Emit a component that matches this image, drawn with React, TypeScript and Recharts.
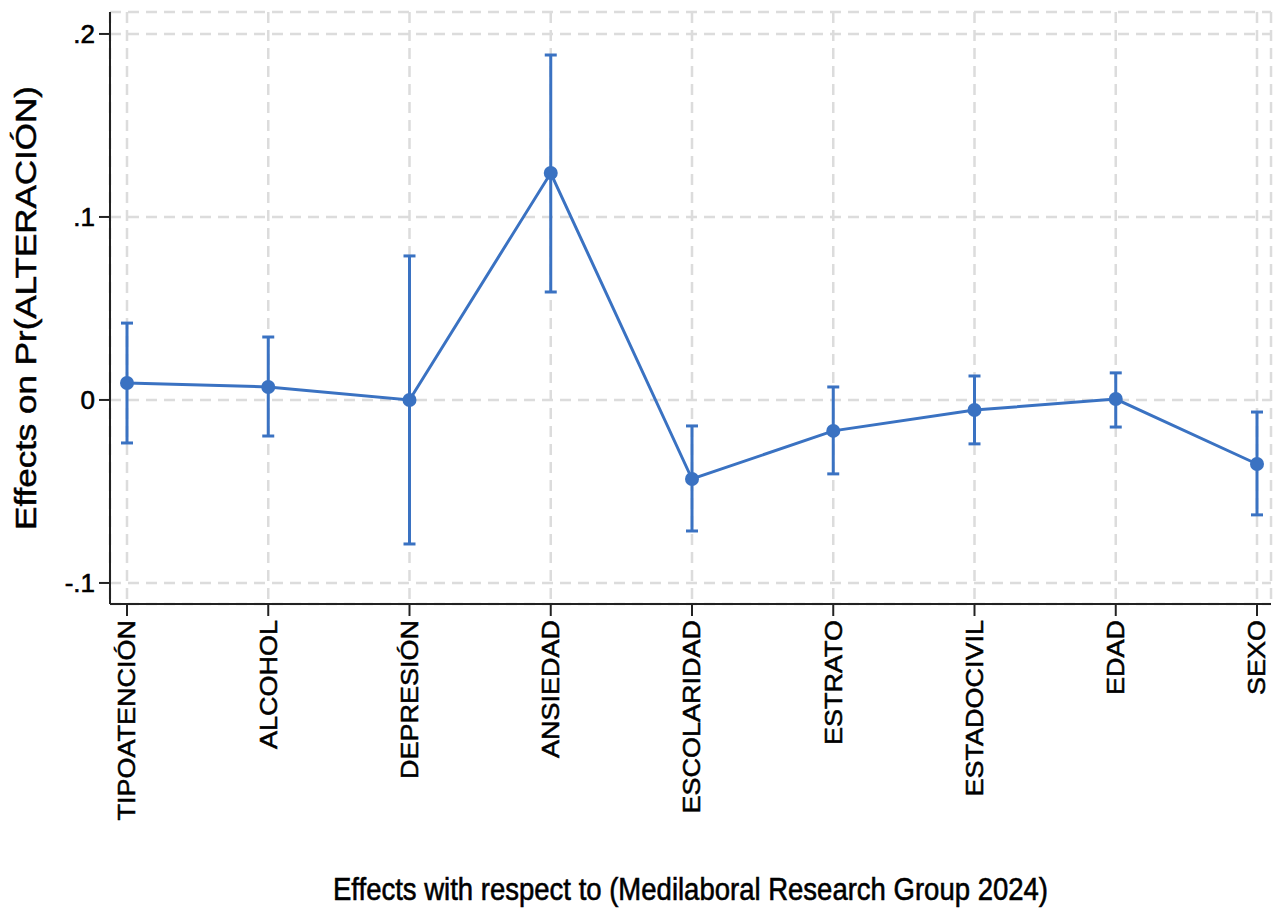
import React from "react";
import {
  LineChart,
  Line,
  XAxis,
  YAxis,
  CartesianGrid,
  ErrorBar,
  Label,
} from "recharts";

const categories = [
  "TIPOATENCIÓN",
  "ALCOHOL",
  "DEPRESIÓN",
  "ANSIEDAD",
  "ESCOLARIDAD",
  "ESTRATO",
  "ESTADOCIVIL",
  "EDAD",
  "SEXO",
];
const effects = [0.0093, 0.0071, 0.0, 0.124, -0.0432, -0.0169, -0.0055, 0.0005, -0.035];
const lowerCI = [-0.0235, -0.0197, -0.0787, 0.059, -0.0716, -0.0404, -0.024, -0.0148, -0.0628];
const upperCI = [0.042, 0.0344, 0.0787, 0.1885, -0.0142, 0.0071, 0.0131, 0.0148, -0.0066];
const yTicks = [-0.1, 0, 0.1, 0.2];
const yDomain = [-0.1115, 0.212];

const xTitle = "Effects with respect to (Medilaboral Research Group 2024)";
const yTitle = "Effects on Pr(ALTERACIÓN)";

const data = categories.map((name, i) => ({
  name,
  effect: effects[i],
  err: [effects[i] - lowerCI[i], upperCI[i] - effects[i]],
}));

const FONT = "'Liberation Sans', Arial, Helvetica, sans-serif";
const BLUE = "#3a72c2";
const SQ = 0.86;
const TXT = { fill: "#000", stroke: "#000", strokeWidth: 0.6 };

const fmt = (v: number) => {
  if (v === 0) return "0";
  const s = String(Math.round(v * 10) / 10);
  return s.replace("0.", ".");
};

const XTick = (props: any) => {
  const { x, y, payload } = props;
  return (
    <text
      transform={`translate(${x},${y + 2}) rotate(-90) scale(1,${SQ})`}
      textAnchor="end"
      dy="0.36em"
      fontSize={27}
      fontFamily={FONT}
      {...TXT}
    >
      {payload.value}
    </text>
  );
};

const YTick = (props: any) => {
  const { x, y, payload } = props;
  return (
    <text
      x={x}
      y={y}
      textAnchor="end"
      dy="0.36em"
      fontSize={26}
      fontFamily={FONT}
      {...TXT}
    >
      {fmt(payload.value)}
    </text>
  );
};

const XTitle = (props: any) => {
  const vb = props.viewBox || {};
  const cx = vb.x + vb.width / 2;
  const by = vb.y + 296;
  return (
    <text
      transform={`translate(${cx},${by}) scale(${SQ},1)`}
      textAnchor="middle"
      fontSize={32}
      fontFamily={FONT}
      {...TXT}
    >
      {xTitle}
    </text>
  );
};

const YTitle = (props: any) => {
  const vb = props.viewBox || {};
  const cy = vb.y + vb.height / 2;
  return (
    <text
      transform={`translate(36,${cy}) rotate(-90) scale(1,${SQ})`}
      textAnchor="middle"
      fontSize={35}
      fontFamily={FONT}
      {...TXT}
    >
      {yTitle}
    </text>
  );
};

export default function App() {
  return (
    <div style={{ position: "absolute", left: 0, top: 0, background: "#fff" }}>
      <LineChart
        width={1276}
        height={908}
        data={data}
        margin={{ top: 12, right: 5, bottom: 0, left: 0 }}
      >
        <CartesianGrid
          stroke="#dcdcdc"
          strokeWidth={2.5}
          strokeDasharray="11 7"
        />
        <XAxis
          dataKey="name"
          padding={{ left: 17, right: 14 }}
          height={304}
          tickSize={12}
          tickLine={{ stroke: "#222", strokeWidth: 2 }}
          axisLine={{ stroke: "#222", strokeWidth: 2 }}
          tick={<XTick />}
          interval={0}
        >
          <Label content={<XTitle />} />
        </XAxis>
        <YAxis
          type="number"
          domain={yDomain}
          ticks={yTicks}
          allowDataOverflow
          width={110}
          tickSize={11}
          tickMargin={4}
          tickLine={{ stroke: "#222", strokeWidth: 2 }}
          axisLine={{ stroke: "#222", strokeWidth: 2 }}
          tick={<YTick />}
        >
          <Label content={<YTitle />} />
        </YAxis>
        <Line
          type="linear"
          dataKey="effect"
          stroke={BLUE}
          strokeWidth={3}
          dot={{ r: 7, fill: BLUE, stroke: BLUE, strokeWidth: 0 }}
          activeDot={false}
          isAnimationActive={false}
        >
          <ErrorBar
            dataKey="err"
            direction="y"
            width={6}
            stroke={BLUE}
            strokeWidth={3}
            isAnimationActive={false}
          />
        </Line>
      </LineChart>
    </div>
  );
}
